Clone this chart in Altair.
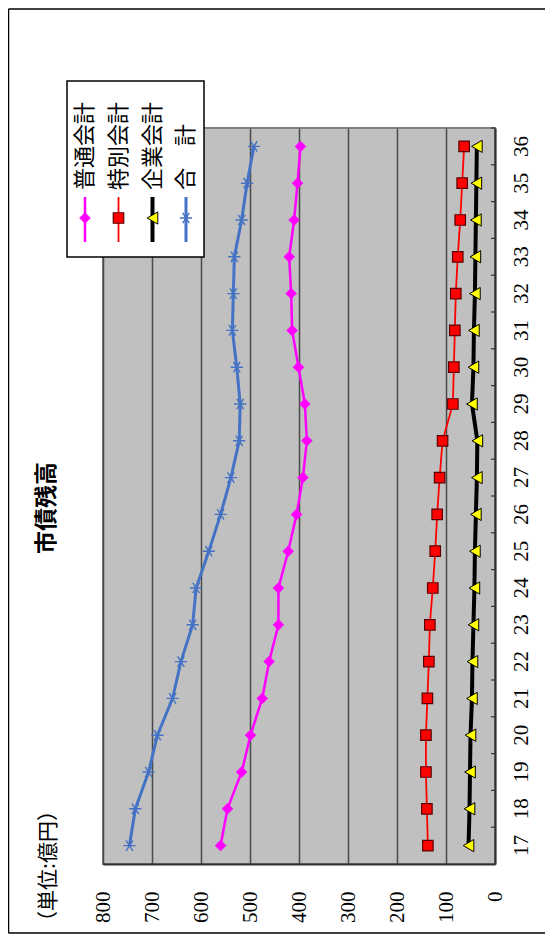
import altair as alt
import pandas as pd

# ---- data ----
years = ["17", "18", "19", "20", "21", "22", "23", "24", "25", "26",
         "27", "28", "29", "30", "31", "32", "33", "34", "35", "36"]
series_names = ["普通会計", "特別会計", "企業会計", "合　計"]
futsu = [560, 546, 517, 499, 475, 461, 442, 442, 422, 405,
         392, 384, 388, 401, 414, 416, 420, 410, 403, 397]
tokubetsu = [137, 139, 141, 141, 138, 135, 133, 127, 122, 118,
             113, 107, 86, 84, 82, 80, 76, 71, 67, 63]
kigyo = [54, 52, 51, 50, 47, 46, 44, 42, 41, 39,
         37, 36, 47, 44, 43, 41, 40, 39, 38, 37]
total = [746, 734, 707, 689, 658, 641, 617, 610, 584, 560,
         539, 522, 520, 527, 536, 534, 532, 517, 506, 492]
value_ticks = [0, 100, 200, 300, 400, 500, 600, 700, 800]
title_text = "市債残高"
unit_text = "（単位:億円）"

rows = []
for name, vals in zip(series_names, [futsu, tokubetsu, kigyo, total]):
    for yr, v in zip(years, vals):
        rows.append({"series": name, "year": yr, "value": v})
df = pd.DataFrame(rows)

# ---- styles ----
W, H = 392, 736
JP = "Noto Sans CJK JP"
NUM = "Liberation Serif, DejaVu Serif, serif"
ASTER = "M-1,0L1,0M-0.55,-0.85L0.55,0.85M-0.55,0.85L0.55,-0.85"
styles = {
    "普通会計": dict(color="#FF00FF", lw=2.5, shape="diamond", fill="#FF00FF", stroke="#FF00FF", size=120, filled=True, sw=0.5),
    "特別会計": dict(color="#FF0000", lw=1.8, shape="square", fill="#FF0000", stroke="#5a0000", size=110, filled=True, sw=1.2),
    "企業会計": dict(color="#000000", lw=4.0, shape="triangle-left", fill="#FFFF00", stroke="#000000", size=150, filled=True, sw=1.0),
    "合　計": dict(color="#4472C4", lw=3.0, shape=ASTER, fill="none", stroke="#4472C4", size=150, filled=False, sw=1.4),
}

xscale = alt.Scale(domain=[0, 800], reverse=True, nice=False, zero=True)
yscale = alt.Scale(type="band", paddingInner=0, paddingOuter=0)
ysort = years[::-1]

xaxis = alt.Axis(values=value_ticks, title=None, labelAngle=270, labelAlign="right",
                 labelBaseline="middle", labelPadding=27, labelFont=NUM, labelFontSize=21,
                 labelColor="#000000", labelFlush=False, labelOverlap=False, ticks=False,
                 domain=True, domainColor="#303030", domainWidth=2, grid=True,
                 gridColor="#4a4a4a", gridWidth=1.5)
yaxis = alt.Axis(orient="right", title=None, labelAngle=270, labelAlign="center",
                 labelBaseline="top", labelPadding=15, labelFont=NUM, labelFontSize=21,
                 labelColor="#000000", ticks=False, domain=True, domainColor="#303030",
                 domainWidth=2, grid=False, labelOverlap=False)

X = alt.X("value:Q", scale=xscale, axis=xaxis)
Y = alt.Y("year:O", scale=yscale, sort=ysort, axis=yaxis, bandPosition=0.5)

layers = []

# inward tick marks on the category axis (between categories)
ticks = alt.Chart(pd.DataFrame({"year": years})).mark_rule(color="#303030", strokeWidth=1.2).encode(
    y=alt.Y("year:O", scale=yscale, sort=ysort, axis=yaxis, bandPosition=0),
    x=alt.value(W - 4), x2=alt.value(W))
layers.append(ticks)

for name in series_names:
    st = styles[name]
    sub = df[df.series == name]
    base = alt.Chart(sub)
    layers.append(base.mark_line(color=st["color"], strokeWidth=st["lw"]).encode(x=X, y=Y))
    layers.append(base.mark_point(shape=st["shape"], size=st["size"], filled=st["filled"],
                                  fill=st["fill"], stroke=st["stroke"], strokeWidth=st["sw"],
                                  opacity=1, fillOpacity=1).encode(x=X, y=Y))

one = pd.DataFrame({"k": [0]})

# legend box
layers.append(alt.Chart(one).mark_rect(fill="white", stroke="black", strokeWidth=1.5, clip=False).encode(
    x=alt.value(-36), x2=alt.value(101), y=alt.value(-47), y2=alt.value(129)))
leg_x = [-18, 15.5, 49.5, 83]
for name, lx in zip(series_names, leg_x):
    st = styles[name]
    d = pd.DataFrame({"series": [name]})
    layers.append(alt.Chart(d).mark_rule(color=st["color"], strokeWidth=st["lw"], clip=False).encode(
        x=alt.value(lx), y=alt.value(69), y2=alt.value(114)))
    layers.append(alt.Chart(d).mark_point(shape=st["shape"], size=st["size"], filled=st["filled"],
                                          fill=st["fill"], stroke=st["stroke"], strokeWidth=st["sw"],
                                          opacity=1, fillOpacity=1, clip=False).encode(
        x=alt.value(lx), y=alt.value(90)))
    layers.append(alt.Chart(d).mark_text(angle=270, align="left", baseline="middle", font=JP,
                                         fontSize=22, color="black", clip=False).encode(
        x=alt.value(lx), y=alt.value(62), text="series:N"))

# title and unit label
layers.append(alt.Chart(one).mark_text(text=title_text, angle=270, align="center", baseline="middle",
                                       font=JP, fontSize=23, fontWeight="bold", color="black").encode(
    x=alt.value(-56), y=alt.value(380)))
layers.append(alt.Chart(one).mark_text(text=unit_text, angle=270, align="center", baseline="middle",
                                       font=JP, fontSize=21, color="black").encode(
    x=alt.value(-54), y=alt.value(738)))

# outer border (left, top, bottom)
layers.append(alt.Chart(one).mark_rule(color="black", strokeWidth=1.5).encode(
    x=alt.value(-94.5), y=alt.value(-119), y2=alt.value(805)))
layers.append(alt.Chart(one).mark_rule(color="black", strokeWidth=1.5).encode(
    x=alt.value(-94.5), x2=alt.value(460), y=alt.value(-119)))
layers.append(alt.Chart(one).mark_rule(color="black", strokeWidth=1.5).encode(
    x=alt.value(-94.5), x2=alt.value(460), y=alt.value(805)))

chart = alt.layer(*layers).properties(
    width=W, height=H,
    autosize=alt.AutoSizeParams(type="none"),
    padding={"left": 95, "top": 120, "right": 50, "bottom": 72},
).configure_view(fill="#C0C0C0", stroke="#808080", strokeWidth=2
).configure_axis(labelFont=NUM)

chart.save("out.html", embed_options={"renderer": "svg", "actions": False})
